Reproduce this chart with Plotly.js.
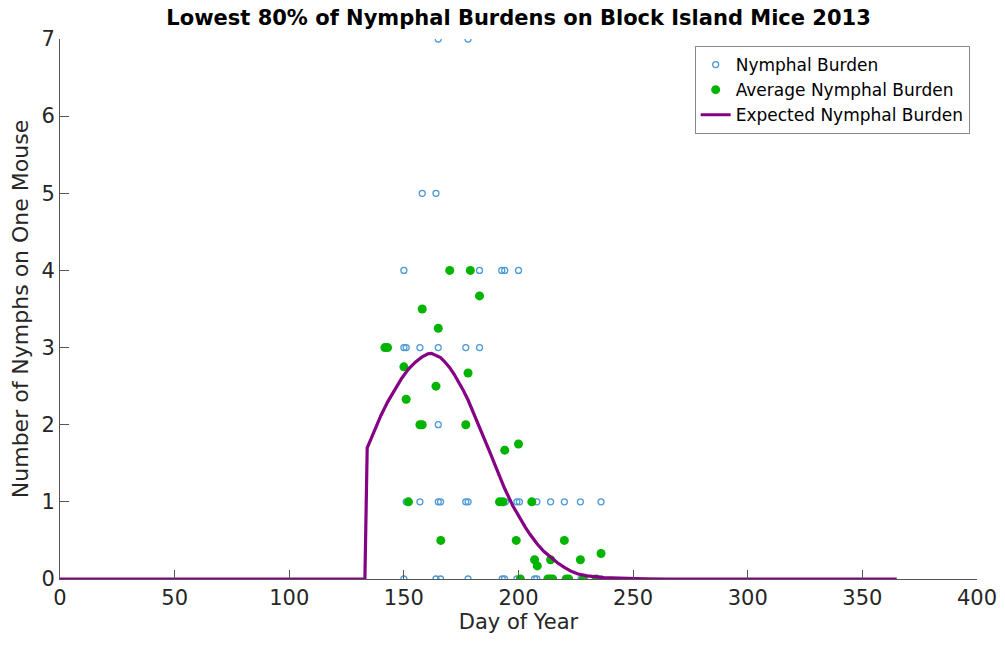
<!DOCTYPE html>
<html>
<head>
<meta charset="utf-8">
<script src="https://cdn.plot.ly/plotly-3.0.1.min.js"></script>
<style>html,body{margin:0;padding:0;background:#fff;}#chart{width:1005px;height:646px;}</style>
</head>
<body>
<div id="chart"></div>
<script>
// Individual nymphal burdens (day of year, count)
const burdenDay = [165, 178, 158, 164,
  150, 183, 192.7, 194, 200,
  150, 151, 157, 165, 177, 183,
  165,
  151, 157, 165, 166, 177, 178, 194.3, 199.3, 200.4, 208, 214, 220, 227, 236,
  150, 164, 166, 178, 192.9, 193.9, 199.3, 207, 208, 213, 221, 227.3, 236];
const burdenVal = [7, 7, 5, 5,
  4, 4, 4, 4, 4,
  3, 3, 3, 3, 3, 3,
  2,
  1, 1, 1, 1, 1, 1, 1, 1, 1, 1, 1, 1, 1, 1,
  0, 0, 0, 0, 0, 0, 0, 0, 0, 0, 0, 0, 0];

// Average nymphal burden per sampling day
const avgDay = [141.7, 142.9, 150, 151, 152, 157, 158, 158, 164, 165, 166.1, 170, 177, 178, 179, 183,
  191.7, 193.2, 194, 199, 200, 200.8, 205.8, 207, 208.2, 212.8, 213.8, 214, 214.9, 220, 220.8, 221.9, 227, 228.3, 233.9, 236];
const avgVal = [3, 3, 2.75, 2.33, 1, 2, 2, 3.5, 2.5, 3.25, 0.5, 4, 2, 2.67, 4, 3.67,
  1, 1, 1.67, 0.5, 1.75, 0, 1, 0.25, 0.17, 0, 0, 0.25, 0, 0.5, 0, 0, 0.25, 0, 0, 0.33];

// Expected nymphal burden curve
const expDay = [0, 133, 134, 137, 140, 143, 146, 149, 152, 155, 158, 160.5, 162, 164, 166, 168, 170, 172, 174, 176, 178, 180, 183, 186, 188, 190, 192, 194, 197.5, 199, 201, 203, 205, 208, 211, 214, 217, 220, 223, 226, 230, 237, 244, 255, 265, 365];
const expVal = [0, 0, 1.70, 1.92, 2.12, 2.30, 2.46, 2.60, 2.72, 2.81, 2.88, 2.92, 2.925, 2.90, 2.87, 2.81, 2.74, 2.65, 2.55, 2.44, 2.32, 2.18, 1.98, 1.76, 1.61, 1.46, 1.31, 1.17, 0.95, 0.87, 0.78, 0.67, 0.58, 0.46, 0.36, 0.28, 0.21, 0.15, 0.10, 0.065, 0.04, 0.017, 0.008, 0.002, 0, 0];

const xTicks = [0, 50, 100, 150, 200, 250, 300, 350, 400];
const yTicks = [0, 1, 2, 3, 4, 5, 6, 7];

const FONT = 'DejaVu Sans, Liberation Sans, Arial, sans-serif';

const traces = [
  {x: burdenDay, y: burdenVal, type: 'scatter', mode: 'markers', name: 'Nymphal Burden',
   marker: {symbol: 'circle-open', size: 6, color: '#4d9ad8', line: {width: 1.3, color: '#4d9ad8'}}},
  {x: avgDay, y: avgVal, type: 'scatter', mode: 'markers', name: 'Average Nymphal Burden',
   marker: {symbol: 'circle', size: 9, color: '#00b400'}},
  {x: expDay, y: expVal, type: 'scatter', mode: 'lines', name: 'Expected Nymphal Burden',
   line: {color: '#850085', width: 3.2}}
];

const layout = {
  width: 1005, height: 646,
  margin: {l: 60, r: 28, t: 39, b: 67},
  paper_bgcolor: '#fff', plot_bgcolor: '#fff',
  font: {family: FONT, color: '#262626', size: 21},
  title: {text: '<b>Lowest 80% of Nymphal Burdens on Block Island Mice 2013</b>',
          font: {family: FONT, size: 21, color: '#000'}, x: 0.516, xanchor: 'center', y: 0.972, yanchor: 'middle'},
  xaxis: {range: [0, 400], tickvals: xTicks, ticktext: xTicks.map(String), ticks: 'inside', ticklen: 9,
          tickcolor: '#555', showline: true, linecolor: '#555', linewidth: 1, showgrid: false, zeroline: false,
          tickfont: {size: 21, color: '#262626'},
          title: {text: 'Day of Year', font: {size: 21, color: '#262626'}, standoff: 4}},
  yaxis: {range: [0, 7], tickvals: yTicks, ticktext: yTicks.map(String), ticks: 'inside', ticklen: 9,
          tickcolor: '#555', showline: true, linecolor: '#555', linewidth: 1, showgrid: false, zeroline: false,
          tickfont: {size: 21, color: '#262626'},
          title: {text: 'Number of Nymphs on One Mouse', font: {size: 22, color: '#262626'}, standoff: 6}},
  showlegend: true,
  legend: {x: 0.992, y: 0.987, xanchor: 'right', yanchor: 'top', bgcolor: '#fff', bordercolor: '#888', borderwidth: 1,
           font: {size: 17, color: '#000'}, itemwidth: 30, tracegroupgap: 0}
};

Plotly.newPlot('chart', traces, layout, {displayModeBar: false, staticPlot: true});
</script>
</body>
</html>
